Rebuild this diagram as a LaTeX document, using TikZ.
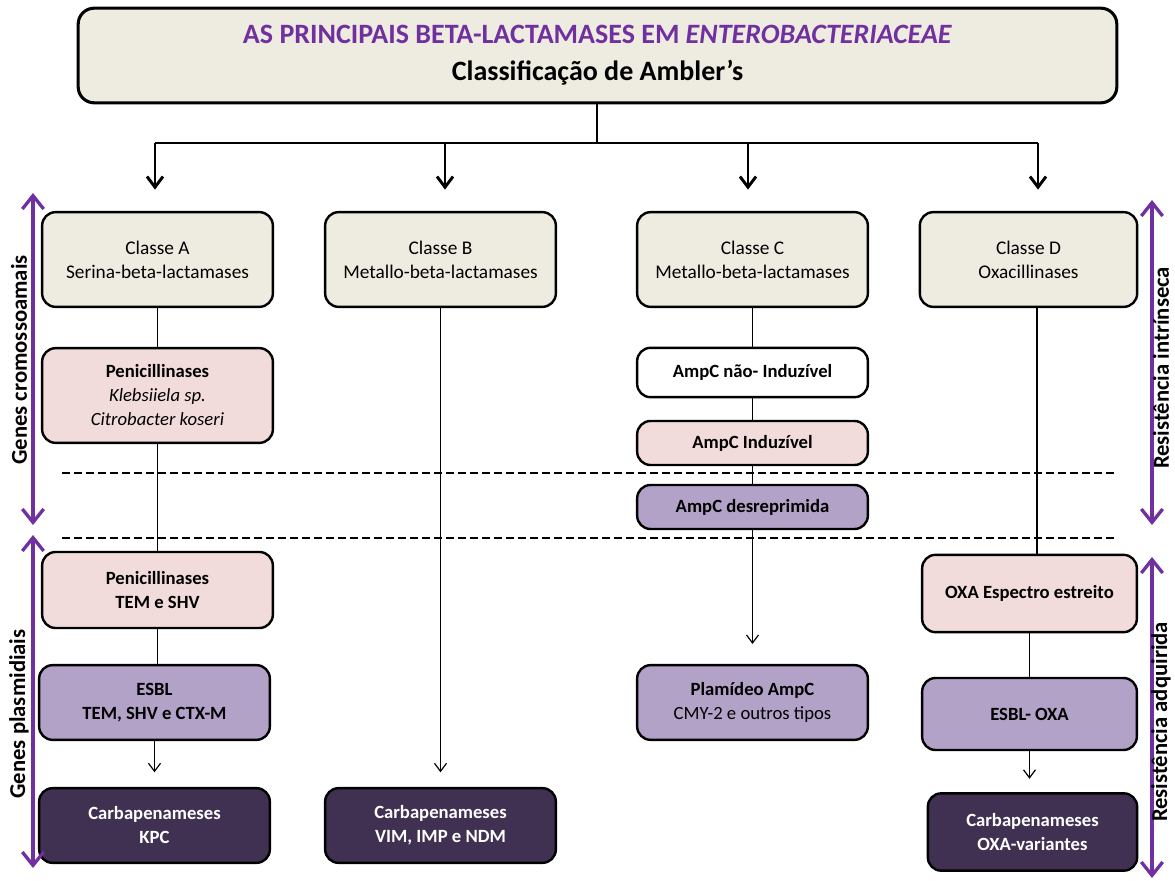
\documentclass[tikz,border=0pt]{standalone}
\usepackage{fontspec}
\setmainfont{Carlito}
\usetikzlibrary{arrows.meta}
\definecolor{bege}{HTML}{EEECE1}
\definecolor{rosa}{HTML}{F2DCDB}
\definecolor{lilas}{HTML}{B3A2C7}
\definecolor{roxoesc}{HTML}{403152}
\definecolor{roxo}{HTML}{7030A0}

\begin{document}
\begin{tikzpicture}[x=0.75pt,y=-0.75pt,
    caixa/.style={draw, line width=1.8pt, rounded corners=10pt, align=center, inner sep=2pt,
      minimum width=173pt, font=\fontsize{14}{18}\selectfont\bfseries},
    classe/.style={caixa, fill=bege, minimum height=71pt, font=\fontsize{14.5}{18}\selectfont},
    rosabox/.style={caixa, fill=rosa},
    lilasbox/.style={caixa, fill=lilas},
    carbbox/.style={caixa, fill=roxoesc, text=white, minimum height=56pt},
    liga/.style={line width=0.9pt},
    seta/.style={liga, -{Straight Barb[length=6pt,width=9pt]}},
    setagrossa/.style={line width=2.2pt, -{Straight Barb[length=8pt,width=12pt]}},
    dupla/.style={roxo, line width=2.5pt, {Straight Barb[length=10pt,width=16pt]}-{Straight Barb[length=10pt,width=16pt]}},
    lado/.style={rotate=90, inner sep=0pt, font=\fontsize{17}{20}\selectfont\bfseries},
    divisa/.style={line width=1.1pt, dash pattern=on 6pt off 3pt}]
    \useasboundingbox (0,0) rectangle (1175,881);
    % titulo
    \node[draw, line width=2.3pt, rounded corners=12pt, fill=bege, minimum width=779pt, minimum height=71pt,
      align=center, font=\fontsize{21}{28}\selectfont\bfseries] (titulo) at (597.5,55.5)
      {{\color{roxo}AS PRINCIPAIS BETA-LACTAMASES EM \textit{ENTEROBACTERIACEAE}}\\Classificação de Ambler’s};
    % classes
    \node[classe] (classA) at (157.5,259.5) {Classe A\\Serina-beta-lactamases};
    \node[classe] (classB) at (440.5,259.5) {Classe B\\Metallo-beta-lactamases};
    \node[classe] (classC) at (752.5,259.5) {Classe C\\Metallo-beta-lactamases};
    \node[classe, minimum width=163pt] (classD) at (1028.5,259.5) {Classe D\\Oxacillinases};
    % coluna A
    \node[rosabox, minimum height=71pt] (penA) at (157.5,395.5)
      {Penicillinases\\\mdseries\itshape Klebsiiela sp.\\\mdseries\itshape Citrobacter koseri};
    \node[rosabox, minimum height=57pt] (penTEM) at (157.5,590) {Penicillinases\\TEM e SHV};
    \node[lilasbox, minimum height=56pt] (esblA) at (154.5,702.5) {ESBL\\TEM, SHV e CTX-M};
    \node[carbbox] (carbA) at (154.5,825.5) {Carbapenameses\\KPC};
    % coluna B
    \node[carbbox] (carbB) at (440.5,825.5) {Carbapenameses\\VIM, IMP e NDM};
    % coluna C
    \node[caixa, fill=white, minimum height=37pt] (ampcNI) at (752.5,372.5) {AmpC não- Induzível};
    \node[rosabox, minimum height=33pt] (ampcI) at (752.5,443) {AmpC Induzível};
    \node[lilasbox, minimum height=33pt] (ampcD) at (752.5,507) {AmpC desreprimida};
    \node[lilasbox, minimum height=56pt] (plasC) at (752.5,702.5) {Plamídeo  AmpC\\\mdseries CMY-2 e outros tipos};
    % coluna D
    \node[rosabox, minimum width=161pt, minimum height=58pt] (oxaD) at (1029.5,593.5) {OXA Espectro estreito};
    \node[lilasbox, minimum width=161pt, minimum height=54pt] (esblD) at (1029.5,714) {ESBL- OXA};
    \node[carbbox, minimum width=157pt, minimum height=58pt] (carbD) at (1032.5,832) {Carbapenameses\\OXA-variantes};
    % linhas tracejadas
    \draw[divisa] (62,473) -- (1117,473);
    \draw[divisa] (62,538) -- (1117,538);
    % ramificacao do titulo
    \coordinate (hub) at (597,143);
    \coordinate (bA) at (155,143);
    \coordinate (bB) at (445,143);
    \coordinate (bC) at (748,143);
    \coordinate (bD) at (1038,143);
    \draw[line width=2.2pt] (titulo.south -| hub) -- (hub);
    \draw[line width=2.2pt] (bA) -- (bD);
    \draw[setagrossa, shorten >=16pt] (bA) -- (bA |- classA.north);
    \draw[setagrossa, shorten >=16pt] (bB) -- (bB |- classB.north);
    \draw[setagrossa, shorten >=16pt] (bC) -- (bC |- classC.north);
    \draw[setagrossa, shorten >=16pt] (bD) -- (bD |- classD.north);
    % ligacoes
    \draw[liga] (classA) -- (penA);
    \draw[liga] (penA) -- (penTEM);
    \draw[liga] (penTEM) -- (esblA.north -| penTEM);
    \draw[seta, shorten >=11pt] (esblA) -- (carbA);
    \draw[seta, shorten >=11pt] (classB) -- (carbB);
    \draw[liga] (classC) -- (ampcNI);
    \draw[liga] (ampcNI) -- (ampcI);
    \draw[liga] (ampcI) -- (ampcD);
    \draw[seta, shorten >=15pt] (ampcD) -- (plasC);
    \draw[liga] (classD.south -| 1037,0) -- (oxaD.north -| 1037,0);
    \draw[liga] (oxaD) -- (esblD);
    \draw[seta, shorten >=10pt] (esblD.south) -- (esblD.south |- carbD.north);
    % setas laterais
    \draw[dupla] (33,193) -- (33,525);
    \draw[dupla] (33,535) -- (33,868);
    \draw[dupla] (1152,200) -- (1152,525);
    \draw[dupla] (1152,557) -- (1152,878);
    \node[lado] (genesC) at (19,360) {Genes cromossoamais};
    \node[lado] (genesP) at (19,714) {Genes plasmidiais};
    \node[lado] (resI) at (1161,368) {Resistência intrínseca};
    \node[lado] (resA) at (1161,722) {Resistência adquirida};
\end{tikzpicture}
\end{document}
